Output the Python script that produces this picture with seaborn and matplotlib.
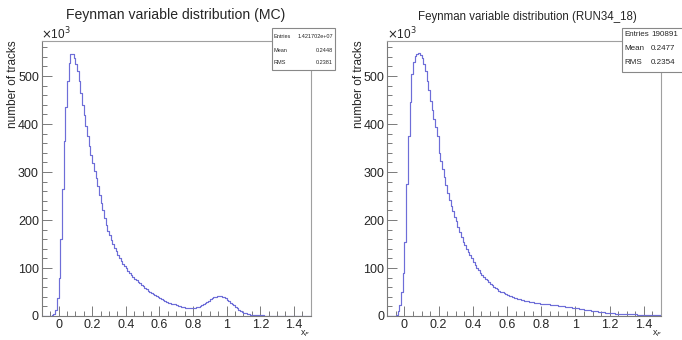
import numpy as np
import pandas as pd
import seaborn as sns
import matplotlib.pyplot as plt
from matplotlib.patches import Rectangle
from matplotlib.ticker import MultipleLocator, FuncFormatter

# bin edges of x_F, 0.01 wide, from -0.1 to 1.5
edges = np.round(np.arange(-0.10, 1.5001, 0.01), 3)

# counts per bin, in thousands of tracks
mc_counts = [
    0, 0, 0, 0.2, 0.5, 1, 2, 5, 12, 37,
    80, 160, 265, 365, 436, 490, 527, 545, 546, 538,
    525, 510, 490, 465, 440, 418, 395, 375, 355, 335,
    318, 302, 287, 270, 253, 236, 220, 205, 190, 177,
    168, 158, 150, 142, 135, 128, 121, 115, 109, 104,
    99, 94, 89, 85, 81, 77, 74, 71, 68, 65,
    62, 59, 56, 53, 50, 47, 45, 43, 41, 39,
    37, 35, 33, 31, 30, 28, 27, 26, 25, 24,
    22, 21, 20, 19, 18, 17, 16.5, 16, 16, 16.5,
    16.5, 17, 18, 19.5, 21, 23, 25, 27, 29.5, 32,
    34.5, 37, 39, 40.5, 41.5, 42, 41.5, 40.5, 39, 37,
    34, 31, 28, 25, 22, 19, 16, 13, 11, 9,
    7, 5.5, 4.5, 3.5, 3, 2.5, 2, 1.8, 1.5, 1.3,
    1.2, 1.1, 1, 0.9, 0.8, 0.8, 0.7, 0.7, 0.6, 0.6,
    0.5, 0.5, 0.5, 0.5, 0.5, 0.4, 0.4, 0.4, 0.4, 0.4,
    0.4, 0.4, 0.3, 0.3, 0.3, 0.3, 0.3, 0.3, 0.3, 0.3,
]
run_counts = [
    0, 0, 0, 0, 0, 3, 10, 22, 50, 90,
    155, 275, 375, 446, 505, 530, 542, 546, 547, 543,
    537, 525, 510, 490, 470, 448, 430, 410, 394, 376,
    339, 322, 306, 290, 273, 257, 242, 230, 218, 207,
    197, 186, 174, 164, 155, 147, 140, 133, 127, 121,
    112, 106, 100, 95, 90, 86, 82, 78, 74, 70,
    67, 64, 61, 58, 56, 53, 51, 49, 47, 45,
    44, 42, 41, 39, 38, 37, 36, 35, 34, 33,
    32, 31, 30.5, 30, 29, 28.5, 28, 27, 26.5, 26,
    25.5, 25, 24.5, 24, 24, 23.5, 23, 23, 22.5, 22,
    21.5, 21, 20.5, 20, 19.5, 19, 18.5, 18, 17.5, 17,
    16.5, 16, 15.5, 15, 14, 13.5, 13, 12, 11.5, 11,
    10.5, 10, 9.5, 9, 8.5, 8, 7.5, 7, 7, 6.5,
    6, 5.8, 5.5, 5.2, 5, 4.8, 4.5, 4.3, 4.1, 4,
    3.8, 3.7, 3.5, 3.4, 3.3, 3.2, 3.1, 3, 2.9, 2.8,
    2.7, 2.6, 2.5, 2.5, 2.4, 2.3, 2.2, 2.2, 2.1, 2,
]

titles = ["Feynman variable distribution (MC)",
          "Feynman variable distribution (RUN34_18)"]
stats_mc = [("Entries", "1.421702e+07"), ("Mean", "0.2448"), ("RMS", "0.2381")]
stats_run = [("Entries", "190891"), ("Mean", "0.2477"), ("RMS", "0.2354")]

sns.set_style("white")
plt.rcParams['font.family'] = ['Liberation Sans', 'DejaVu Sans']

W, H = 682, 340
fig = plt.figure(figsize=(W / 100, H / 100), dpi=100)

line_col = "#6e6ed8"
frame_col = "#a0a0a0"
axis_col = "#7a7a7a"


def px_box(x0, y0, x1, y1):
    return [x0 / W, 1 - y1 / H, (x1 - x0) / W, (y1 - y0) / H]


def draw_panel(ax, counts):
    # step outline: each bin's height held from its left edge to the next
    df = pd.DataFrame({"xf": edges, "n": list(counts) + [counts[-1]]})
    sns.lineplot(data=df, x="xf", y="n", drawstyle="steps-post",
                 color=line_col, linewidth=0.85, ax=ax)
    ax.set_xlim(-0.1, 1.5)
    ax.set_ylim(0, 573)
    ax.set_xlabel("")
    ax.set_ylabel("")
    ax.xaxis.set_major_locator(MultipleLocator(0.2))
    ax.xaxis.set_minor_locator(MultipleLocator(0.05))
    ax.yaxis.set_major_locator(MultipleLocator(100))
    ax.yaxis.set_minor_locator(MultipleLocator(20))
    ax.xaxis.set_major_formatter(FuncFormatter(lambda v, p: f"{v:g}"))
    ax.tick_params(axis="both", which="both", bottom=True, left=True,
                   top=False, right=False, direction="in", color=axis_col)
    ax.tick_params(axis="both", which="major", length=7, width=0.7,
                   labelsize=9, pad=2)
    ax.tick_params(axis="both", which="minor", length=3.5, width=0.7)
    for s in ["top", "right"]:
        ax.spines[s].set_color(frame_col)
        ax.spines[s].set_linewidth(0.8)
    for s in ["left", "bottom"]:
        ax.spines[s].set_color(axis_col)
        ax.spines[s].set_linewidth(0.8)


def draw_stats(rect, rows, ys, xl, xv, ha_v, fs):
    x0, y0, x1, y1 = rect
    fig.patches.append(Rectangle((x0 / W, 1 - y1 / H), (x1 - x0) / W, (y1 - y0) / H,
                                 transform=fig.transFigure, facecolor="white",
                                 edgecolor="#888888", linewidth=0.8, zorder=5))
    for (k, v), y in zip(rows, ys):
        fig.text(xl / W, 1 - y / H, k, fontsize=fs, va="center", ha="left", zorder=6)
        fig.text(xv / W, 1 - y / H, v, fontsize=fs, va="center", ha=ha_v, zorder=6)


ax1 = fig.add_axes(px_box(41.7, 41, 310.7, 316))
ax2 = fig.add_axes(px_box(387.3, 41, 661, 316))
draw_panel(ax1, mc_counts)
draw_panel(ax2, run_counts)

# titles
fig.text(176 / W, 1 - 15 / H, titles[0], fontsize=10.1, ha="center", va="center")
fig.text(527 / W, 1 - 17 / H, titles[1], fontsize=8.3, ha="center", va="center")

# y labels, x labels, exponent
for xpos in [13, 359]:
    fig.text(xpos / W, 1 - 40 / H, "number of tracks", rotation=90, fontsize=8.5,
             ha="center", va="top")
for xpos in [41, 387]:
    fig.text(xpos / W, 1 - 34 / H, r"$\times$10$^3$", fontsize=8.5, ha="left", va="center")
for xpos in [305, 657]:
    fig.text(xpos / W, 1 / H, r"x$_F$", fontsize=6.5, ha="center", va="bottom")

# stats boxes
draw_stats((272, 28, 335, 70), stats_mc, [36, 50, 63], 274, 333, "right", 4.0)
draw_stats((622, 28, 700, 72), stats_run, [35, 49, 63], 624, 651, "left", 5.8)

fig.savefig("out.png", dpi=100)
